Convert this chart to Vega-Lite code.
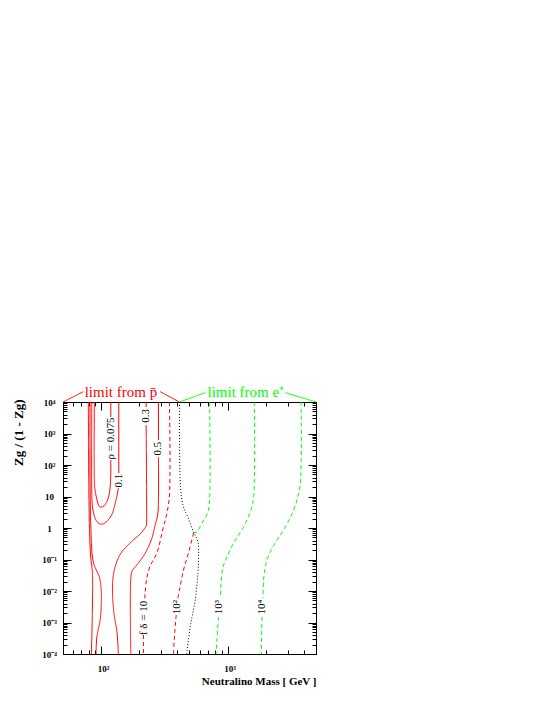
{
  "$schema": "https://vega.github.io/schema/vega-lite/v6.json",
  "width": 253,
  "height": 252,
  "autosize": {"type": "none"},
  "padding": {"left": 63, "top": 402, "right": 229, "bottom": 51},
  "background": "white",
  "config": {
    "view": {"stroke": null},
    "font": "Liberation Serif",
    "axis": {"grid": false, "domainColor": "black", "domainWidth": 1, "tickColor": "black", "tickWidth": 1, "labelFont": "Liberation Serif", "titleFont": "Liberation Serif", "labelColor": "black", "titleColor": "black"}
  },
  "datasets": {
    "curves": [
      {"c":"a","k":"rho","i":0,"m":79.3,"z":10000},{"c":"a","k":"rho","i":1,"m":80.8,"z":1.25},{"c":"a","k":"rho","i":2,"m":82.9,"z":0.112},{"c":"a","k":"rho","i":3,"m":85.3,"z":0.0401},{"c":"a","k":"rho","i":4,"m":85.3,"z":0.00215},{"c":"a","k":"rho","i":5,"m":83.8,"z":0.0001},
      {"c":"b","k":"rho","i":0,"m":81.8,"z":10000},{"c":"b","k":"rho","i":1,"m":82.9,"z":1.25},{"c":"b","k":"rho","i":2,"m":86.9,"z":0.0834},{"c":"b","k":"rho","i":3,"m":98.2,"z":0.0224},{"c":"b","k":"rho","i":4,"m":99.4,"z":0.00173},{"c":"b","k":"rho","i":5,"m":92.4,"z":0.000322},{"c":"b","k":"rho","i":6,"m":91.3,"z":0.0001},
      {"c":"r01a","k":"rho","i":0,"m":137.0,"z":18.6},{"c":"r01a","k":"rho","i":1,"m":134.5,"z":12.0},{"c":"r01a","k":"rho","i":2,"m":129.0,"z":5.78},{"c":"r01a","k":"rho","i":3,"m":122.2,"z":2.78},{"c":"r01a","k":"rho","i":4,"m":113.6,"z":1.79},{"c":"r01a","k":"rho","i":5,"m":105.6,"z":1.39},{"c":"r01a","k":"rho","i":6,"m":98.2,"z":1.34},{"c":"r01a","k":"rho","i":7,"m":92.1,"z":1.67},{"c":"r01a","k":"rho","i":8,"m":88.0,"z":2.59},{"c":"r01a","k":"rho","i":9,"m":85.3,"z":5.37},{"c":"r01a","k":"rho","i":10,"m":84.4,"z":16.1},{"c":"r01a","k":"rho","i":11,"m":84.4,"z":10000},
      {"c":"r01b","k":"rho","i":0,"m":138.0,"z":55.7},{"c":"r01b","k":"rho","i":1,"m":138.0,"z":10000},
      {"c":"r0075a","k":"rho","i":0,"m":119.3,"z":144.1},{"c":"r0075a","k":"rho","i":1,"m":119.3,"z":48.2},{"c":"r0075a","k":"rho","i":2,"m":117.8,"z":18.6},{"c":"r0075a","k":"rho","i":3,"m":114.6,"z":9.65},{"c":"r0075a","k":"rho","i":4,"m":109.5,"z":6.22},{"c":"r0075a","k":"rho","i":5,"m":103.7,"z":4.82},{"c":"r0075a","k":"rho","i":6,"m":98.2,"z":4.64},{"c":"r0075a","k":"rho","i":7,"m":95.5,"z":5.37},{"c":"r0075a","k":"rho","i":8,"m":92.1,"z":8.96},{"c":"r0075a","k":"rho","i":9,"m":89.6,"z":16.1},{"c":"r0075a","k":"rho","i":10,"m":88.5,"z":33.4},{"c":"r0075a","k":"rho","i":11,"m":88.5,"z":10000},
      {"c":"r0075b","k":"rho","i":0,"m":119.3,"z":3342},{"c":"r0075b","k":"rho","i":1,"m":119.3,"z":10000},
      {"c":"r03a","k":"rho","i":0,"m":227.1,"z":10000},{"c":"r03a","k":"rho","i":1,"m":227.1,"z":6938},
      {"c":"r03b","k":"rho","i":0,"m":227.1,"z":1862},{"c":"r03b","k":"rho","i":1,"m":229.2,"z":7.74},{"c":"r03b","k":"rho","i":2,"m":229.2,"z":1.55},{"c":"r03b","k":"rho","i":3,"m":228.0,"z":1.2},{"c":"r03b","k":"rho","i":4,"m":207.3,"z":0.694},{"c":"r03b","k":"rho","i":5,"m":172.8,"z":0.359},{"c":"r03b","k":"rho","i":6,"m":143.9,"z":0.161},{"c":"r03b","k":"rho","i":7,"m":129.0,"z":0.0578},{"c":"r03b","k":"rho","i":8,"m":123.3,"z":0.0179},{"c":"r03b","k":"rho","i":9,"m":125.6,"z":0.00249},{"c":"r03b","k":"rho","i":10,"m":133.8,"z":0.000464},{"c":"r03b","k":"rho","i":11,"m":137.0,"z":0.0001},
      {"c":"r05a","k":"rho","i":0,"m":284.1,"z":10000},{"c":"r05a","k":"rho","i":1,"m":284.1,"z":622},
      {"c":"r05b","k":"rho","i":0,"m":284.1,"z":179.6},{"c":"r05b","k":"rho","i":1,"m":284.1,"z":7.74},{"c":"r05b","k":"rho","i":2,"m":280.0,"z":2.59},{"c":"r05b","k":"rho","i":3,"m":267.5,"z":1.25},{"c":"r05b","k":"rho","i":4,"m":252.0,"z":0.471},{"c":"r05b","k":"rho","i":5,"m":222.9,"z":0.157},{"c":"r05b","k":"rho","i":6,"m":191.6,"z":0.0669},{"c":"r05b","k":"rho","i":7,"m":175.9,"z":0.0431},{"c":"r05b","k":"rho","i":8,"m":171.8,"z":0.0259},{"c":"r05b","k":"rho","i":9,"m":171.8,"z":0.0001},
      {"c":"fd10a","k":"fdp","i":0,"m":347.2,"z":10000},{"c":"fd10a","k":"fdp","i":1,"m":347.2,"z":11.2},{"c":"fd10a","k":"fdp","i":2,"m":333.0,"z":3.22},{"c":"fd10a","k":"fdp","i":3,"m":309.6,"z":1.0},{"c":"fd10a","k":"fdp","i":4,"m":276.0,"z":0.161},{"c":"fd10a","k":"fdp","i":5,"m":244.2,"z":0.0622},{"c":"fd10a","k":"fdp","i":6,"m":229.9,"z":0.0259},{"c":"fd10a","k":"fdp","i":7,"m":222.9,"z":0.00864},{"c":"fd10a","k":"fdp","i":8,"m":221.7,"z":0.0054},
      {"c":"fd10b","k":"fdp","i":0,"m":216.1,"z":0.000401},{"c":"fd10b","k":"fdp","i":1,"m":216.1,"z":0.0001},
      {"c":"fd100ra","k":"fdp","i":0,"m":537.9,"z":0.694},{"c":"fd100ra","k":"fdp","i":1,"m":491.1,"z":0.161},{"c":"fd100ra","k":"fdp","i":2,"m":448.3,"z":0.0464},{"c":"fd100ra","k":"fdp","i":3,"m":416.7,"z":0.0108},{"c":"fd100ra","k":"fdp","i":4,"m":401.8,"z":0.00518},
      {"c":"fd100rb","k":"fdp","i":0,"m":392.4,"z":0.00173},{"c":"fd100rb","k":"fdp","i":1,"m":378.4,"z":0.000278},{"c":"fd100rb","k":"fdp","i":2,"m":373.5,"z":0.0001},
      {"c":"fd100g","k":"fde","i":0,"m":720.2,"z":10000},{"c":"fd100g","k":"fde","i":1,"m":720.2,"z":7.74},{"c":"fd100g","k":"fde","i":2,"m":694.3,"z":2.99},{"c":"fd100g","k":"fde","i":3,"m":626.9,"z":1.44},{"c":"fd100g","k":"fde","i":4,"m":572.2,"z":0.747},{"c":"fd100g","k":"fde","i":5,"m":537.9,"z":0.694},
      {"c":"fd1000a","k":"fde","i":0,"m":1627,"z":10000},{"c":"fd1000a","k":"fde","i":1,"m":1606,"z":9.65},{"c":"fd1000a","k":"fde","i":2,"m":1531,"z":3.73},{"c":"fd1000a","k":"fde","i":3,"m":1338,"z":1.08},{"c":"fd1000a","k":"fde","i":4,"m":1115,"z":0.334},{"c":"fd1000a","k":"fde","i":5,"m":988.8,"z":0.12},{"c":"fd1000a","k":"fde","i":6,"m":919.4,"z":0.0578},{"c":"fd1000a","k":"fde","i":7,"m":891.3,"z":0.0224},{"c":"fd1000a","k":"fde","i":8,"m":875.1,"z":0.006},
      {"c":"fd1000b","k":"fde","i":0,"m":848.4,"z":0.0015},{"c":"fd1000b","k":"fde","i":1,"m":824.0,"z":0.000278},{"c":"fd1000b","k":"fde","i":2,"m":809.1,"z":0.0001},
      {"c":"fd10000a","k":"fde","i":0,"m":3811,"z":10000},{"c":"fd10000a","k":"fde","i":1,"m":3763,"z":26.8},{"c":"fd10000a","k":"fde","i":2,"m":3582,"z":9.65},{"c":"fd10000a","k":"fde","i":3,"m":3331,"z":3.73},{"c":"fd10000a","k":"fde","i":4,"m":2862,"z":1.08},{"c":"fd10000a","k":"fde","i":5,"m":2460,"z":0.416},{"c":"fd10000a","k":"fde","i":6,"m":2150,"z":0.161},{"c":"fd10000a","k":"fde","i":7,"m":1988,"z":0.0578},{"c":"fd10000a","k":"fde","i":8,"m":1927,"z":0.0224},{"c":"fd10000a","k":"fde","i":9,"m":1907,"z":0.006},
      {"c":"fd10000b","k":"fde","i":0,"m":1872,"z":0.0015},{"c":"fd10000b","k":"fde","i":1,"m":1848,"z":0.0001},
      {"c":"bnd","k":"bnd","i":0,"m":416.7,"z":10000},{"c":"bnd","k":"bnd","i":1,"m":416.7,"z":622},{"c":"bnd","k":"bnd","i":2,"m":422.1,"z":33.4},{"c":"bnd","k":"bnd","i":3,"m":429.8,"z":11.2},{"c":"bnd","k":"bnd","i":4,"m":448.3,"z":4.64},{"c":"bnd","k":"bnd","i":5,"m":488.4,"z":2.08},{"c":"bnd","k":"bnd","i":6,"m":537.9,"z":0.747},{"c":"bnd","k":"bnd","i":7,"m":582.9,"z":0.359},{"c":"bnd","k":"bnd","i":8,"m":589.3,"z":0.12},{"c":"bnd","k":"bnd","i":9,"m":582.9,"z":0.0373},{"c":"bnd","k":"bnd","i":10,"m":554.7,"z":0.00518},{"c":"bnd","k":"bnd","i":11,"m":506.5,"z":0.000719},{"c":"bnd","k":"bnd","i":12,"m":475.2,"z":0.0001},
      {"c":"lp1","k":"limp","i":0,"m":50,"z":10000},{"c":"lp1","k":"limp","i":1,"m":72.4,"z":21230},
      {"c":"lp2","k":"limp","i":0,"m":293.1,"z":21230},{"c":"lp2","k":"limp","i":1,"m":416.7,"z":10000},
      {"c":"le1","k":"lime","i":0,"m":416.7,"z":10000},{"c":"le1","k":"lime","i":1,"m":665.9,"z":19730},
      {"c":"le2","k":"lime","i":0,"m":2862,"z":19730},{"c":"le2","k":"lime","i":1,"m":5000,"z":10000}
    ],
    "labels": [
      {"t":"ρ = 0.075","m":119.3,"z":693},
      {"t":"0.1","m":138.0,"z":32.2},
      {"t":"0.3","m":227.1,"z":3594},
      {"t":"0.5","m":284.1,"z":334},
      {"t":"f δ = 10","m":220,"z":0.00139},
      {"t":"10²","m":397,"z":0.0031},
      {"t":"10³","m":848,"z":0.0031},
      {"t":"10⁴","m":1872,"z":0.0031}
    ],
    "notes": [
      {"t":"limit from p̄","k":"limp","m":143.4,"z":14090},
      {"t":"limit from e⁺","k":"lime","m":1393,"z":14090}
    ]
  },
  "layer": [
    {
      "data": {"name": "curves"},
      "transform": [{"filter": "datum.k == 'rho' || datum.k == 'limp' || datum.k == 'lime'"}],
      "mark": {"type": "line", "strokeWidth": 1, "interpolate": "catmull-rom"},
      "encoding": {
        "x": {"field": "m", "type": "quantitative", "scale": {"type": "log", "domain": [50, 5000], "nice": false},
          "axis": {"orient": "bottom", "values": [100,1000],
            "labelExpr": "datum.value == 100 ? '10²' : '10³'",
            "title": "Neutralino Mass [ GeV ]", "tickSize": -8, "labelPadding": 18, "labelOffset": 2,
            "labelFontSize": 9, "labelFontWeight": "bold", "labelAlign": "center", "labelBaseline": "top",
            "labelOverlap": false, "labelFlush": false, "labelBound": false,
            "titleFontSize": 11, "titleFontWeight": "bold", "titleAnchor": "end", "titleAlign": "right", "titleBaseline": "middle", "titleX": 253, "titleY": 27}},
        "y": {"field": "z", "type": "quantitative", "scale": {"type": "log", "domain": [0.0001, 10000], "nice": false},
          "axis": {"orient": "left", "values": [0.0001,0.001,0.01,0.1,1,10,100,1000,10000],
            "labelExpr": "datum.value == 10000 ? '10⁴' : datum.value == 1000 ? '10³' : datum.value == 100 ? '10²' : datum.value == 10 ? '10' : datum.value == 1 ? '1' : datum.value == 0.1 ? '10⁻¹' : datum.value == 0.01 ? '10⁻²' : datum.value == 0.001 ? '10⁻³' : '10⁻⁴'",
            "title": "Zg / (1 - Zg)", "tickSize": -8, "labelPadding": 22, "labelFontSize": 9, "labelFontWeight": "bold",
            "labelAlign": "center", "labelBaseline": "middle", "labelOverlap": false, "labelFlush": false, "labelBound": false,
            "titleFontSize": 13, "titleFontWeight": "bold", "titleAngle": 270, "titleAnchor": "end", "titleAlign": "right", "titleBaseline": "middle", "titleX": -45, "titleY": -3}},
        "detail": {"field": "c", "type": "nominal"},
        "order": {"field": "i", "type": "quantitative"},
        "color": {"field": "k", "type": "nominal", "legend": null,
          "scale": {"domain": ["rho","fdp","fde","bnd","limp","lime"], "range": ["#ff0000","#ff0000","#00ff00","#000000","#ff0000","#00ff00"]}},
        "strokeDash": {"field": "k", "type": "nominal", "legend": null,
          "scale": {"domain": ["rho","fdp","fde","bnd","limp","lime"], "range": [[1,0],[4,3],[4,3],[1,2],[1,0],[1,0]]}}
      }
    },
    {
      "data": {"name": "curves"},
      "transform": [{"filter": "datum.k == 'fdp' || datum.k == 'fde' || datum.k == 'bnd'"}],
      "mark": {"type": "line", "strokeWidth": 1, "interpolate": "catmull-rom"},
      "encoding": {
        "x": {"field": "m", "type": "quantitative", "scale": {"type": "log", "domain": [50, 5000], "nice": false},
          "axis": {"orient": "top", "values": [100,1000], "labels": false, "title": null, "tickSize": -8}},
        "y": {"field": "z", "type": "quantitative", "scale": {"type": "log", "domain": [0.0001, 10000], "nice": false},
          "axis": {"orient": "right", "values": [0.0001,0.001,0.01,0.1,1,10,100,1000,10000], "labels": false, "title": null, "tickSize": -8}},
        "detail": {"field": "c", "type": "nominal"},
        "order": {"field": "i", "type": "quantitative"},
        "color": {"field": "k", "type": "nominal", "legend": null,
          "scale": {"domain": ["rho","fdp","fde","bnd","limp","lime"], "range": ["#ff0000","#ff0000","#00ff00","#000000","#ff0000","#00ff00"]}},
        "strokeDash": {"field": "k", "type": "nominal", "legend": null,
          "scale": {"domain": ["rho","fdp","fde","bnd","limp","lime"], "range": [[1,0],[4,3],[4,3],[1,2],[1,0],[1,0]]}}
      }
    },
    {
      "data": {"name": "labels"},
      "mark": {"type": "text", "angle": 270, "fontSize": 11, "font": "Liberation Serif", "color": "black", "align": "center", "baseline": "middle"},
      "encoding": {
        "x": {"field": "m", "type": "quantitative", "scale": {"type": "log", "domain": [50, 5000], "nice": false},
          "axis": {"orient": "bottom", "values": [50,60,70,80,90,200,300,400,500,600,700,800,900,2000,3000,4000,5000],
            "labels": false, "title": null, "domain": false, "tickSize": -4}},
        "y": {"field": "z", "type": "quantitative", "scale": {"type": "log", "domain": [0.0001, 10000], "nice": false},
          "axis": {"orient": "left", "values": [0.0002,0.0003,0.0004,0.0005,0.0006,0.0007,0.0008,0.0009,0.002,0.003,0.004,0.005,0.006,0.007,0.008,0.009,0.02,0.03,0.04,0.05,0.06,0.07,0.08,0.09,0.2,0.3,0.4,0.5,0.6,0.7,0.8,0.9,2,3,4,5,6,7,8,9,20,30,40,50,60,70,80,90,200,300,400,500,600,700,800,900,2000,3000,4000,5000,6000,7000,8000,9000],
            "labels": false, "title": null, "domain": false, "tickSize": -4}},
        "text": {"field": "t", "type": "nominal"}
      }
    },
    {
      "data": {"name": "notes"},
      "mark": {"type": "text", "fontSize": 15, "font": "Liberation Serif", "align": "center", "baseline": "alphabetic"},
      "encoding": {
        "x": {"field": "m", "type": "quantitative", "scale": {"type": "log", "domain": [50, 5000], "nice": false},
          "axis": {"orient": "top", "values": [50,60,70,80,90,200,300,400,500,600,700,800,900,2000,3000,4000,5000],
            "labels": false, "title": null, "domain": false, "tickSize": -4}},
        "y": {"field": "z", "type": "quantitative", "scale": {"type": "log", "domain": [0.0001, 10000], "nice": false},
          "axis": {"orient": "right", "values": [0.0002,0.0003,0.0004,0.0005,0.0006,0.0007,0.0008,0.0009,0.002,0.003,0.004,0.005,0.006,0.007,0.008,0.009,0.02,0.03,0.04,0.05,0.06,0.07,0.08,0.09,0.2,0.3,0.4,0.5,0.6,0.7,0.8,0.9,2,3,4,5,6,7,8,9,20,30,40,50,60,70,80,90,200,300,400,500,600,700,800,900,2000,3000,4000,5000,6000,7000,8000,9000],
            "labels": false, "title": null, "domain": false, "tickSize": -4}},
        "text": {"field": "t", "type": "nominal"},
        "color": {"field": "k", "type": "nominal", "legend": null,
          "scale": {"domain": ["rho","fdp","fde","bnd","limp","lime"], "range": ["#ff0000","#ff0000","#00ff00","#000000","#ff0000","#00ff00"]}}
      }
    }
  ],
  "resolve": {"axis": {"x": "independent", "y": "independent"}}
}
